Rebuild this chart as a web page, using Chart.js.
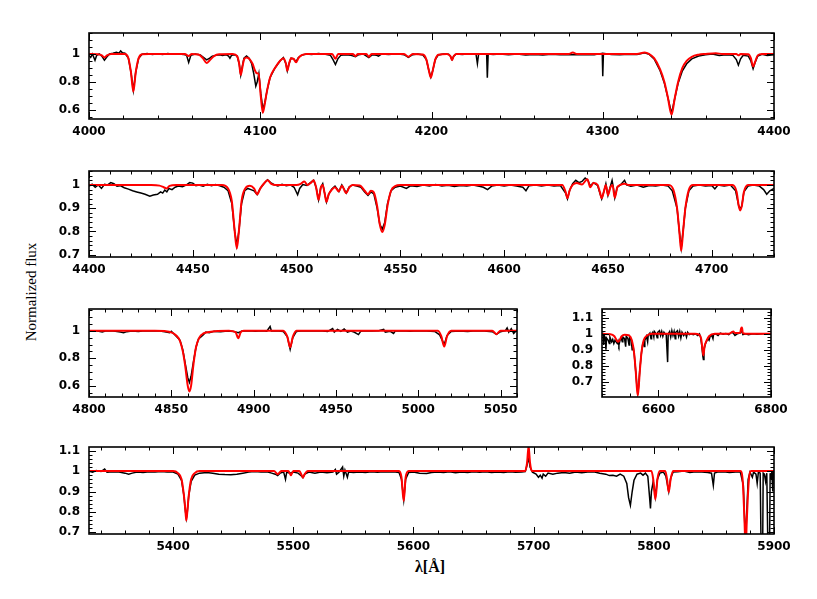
<!DOCTYPE html>
<html>
<head>
<meta charset="utf-8">
<script src="https://cdn.jsdelivr.net/npm/chart.js@4.4.1/dist/chart.umd.min.js"></script>
<style>
  html, body { margin: 0; padding: 0; background: #fff; }
  #wrap { position: relative; width: 817px; height: 599px; overflow: hidden; }
  canvas { position: absolute; }
  .ylab { position: absolute; left: 31px; top: 292px; transform: translate(-50%, -50%) rotate(-90deg);
          font-family: "Liberation Serif", "DejaVu Serif", serif;
          font-size: 15px; white-space: nowrap; color: #000; }
  .xlab { position: absolute; left: 430px; top: 567px; transform: translate(-50%, -50%);
          font-family: "Liberation Serif", "DejaVu Serif", serif; font-weight: bold;
          font-size: 16px; white-space: nowrap; color: #000; }
</style>
</head>
<body>
<div id="wrap">
  <div class="ylab">Normalized flux</div>
  <div class="xlab">λ[Å]</div>
</div>
<script>
// ---- data: [wavelength (A), normalized flux] ----

// panel 1: 4000-4400
const obsBlue = [
  [4000,0.99],[4001,0.975],[4002,1.0],[4003.5,0.955],[4004.5,0.99],[4006,1.0],[4007.5,0.985],[4009,0.955],
  [4010.5,0.98],[4012,1.0],[4014,1.005],[4016,1.012],[4017.5,1.005],[4018.5,1.022],[4019.5,1.008],[4021,1.005],
  [4023,0.97],[4024.5,0.87],[4025.9,0.74],[4027.3,0.87],[4029,0.97],[4031,0.998],[4034,1.003],[4037,0.996],
  [4040,1.002],[4043,0.997],[4046,1.003],[4049,0.998],[4052,1.002],[4055,0.997],[4057,0.99],[4058.2,0.94],
  [4059.5,0.99],[4062,1.0],[4065,0.993],[4067,0.975],[4068.7,0.958],[4070.5,0.97],[4072,0.985],[4074,0.99],
  [4076,0.995],[4078,0.99],[4080,0.995],[4081.5,0.985],[4082.3,0.97],[4083.2,0.99],[4085,0.995],[4086.5,0.985],
  [4087.7,0.93],[4088.6,0.85],[4089.5,0.91],[4090.5,0.97],[4092,0.985],[4093.5,0.97],[4095,0.93],[4096.2,0.86],
  [4097.4,0.77],[4098.2,0.8],[4099.2,0.86],[4100.3,0.72],[4101.6,0.6],[4102.8,0.66],[4104,0.74],[4105.7,0.83],
  [4108.6,0.9],[4111.5,0.95],[4113.5,0.975],[4115,0.93],[4115.8,0.88],[4116.8,0.93],[4118,0.97],[4119.5,0.965],
  [4120.9,0.945],[4122.3,0.975],[4124,0.99],[4127,1.0],[4130,0.997],[4134,1.003],[4138,0.998],[4141,0.99],
  [4142.5,0.96],[4143.9,0.925],[4145.3,0.965],[4147,0.99],[4150,0.995],[4153,0.99],[4155.6,0.98],[4157.5,0.995],
  [4160,1.0],[4163.4,0.975],[4165.5,0.995],[4168,0.99],[4169,0.985],[4171,1.0],[4175,0.997],[4180,1.002],
  [4184,0.995],[4186.5,0.975],[4189,0.995],[4192,1.0],[4195,0.993],[4197,0.96],[4198.5,0.88],[4199.6,0.835],
  [4200.7,0.88],[4202.2,0.96],[4204,0.993],[4207,1.0],[4210,0.998],[4211,0.985],[4212,0.96],[4213,0.985],
  [4214.5,1.0],[4218,0.997],[4222,1.002],[4226,0.998],[4226.8,0.93],[4227.5,0.998],[4230,1.002],[4232.2,1.0],
  [4232.6,0.83],[4233.1,1.0],[4236,0.996],[4240,1.0],[4245,0.995],[4250,1.0],[4255,0.993],[4260,0.997],
  [4265,0.993],[4270,0.998],[4275,0.995],[4280,0.997],[4285,0.994],[4290,0.997],[4295,0.995],[4299.7,1.005],
  [4300,0.84],[4300.4,1.005],[4305,0.997],[4310,0.995],[4315,0.998],[4320,0.996],[4324.5,1.008],[4327,0.998],
  [4330,0.965],[4333.5,0.88],[4336,0.79],[4338,0.69],[4340.2,0.575],[4342,0.68],[4344,0.79],[4346.5,0.88],
  [4349,0.93],[4352,0.965],[4356,0.985],[4360,0.995],[4364,1.0],[4368,0.99],[4372,0.995],[4376,0.99],
  [4378,0.96],[4379.2,0.92],[4380.5,0.965],[4382,0.99],[4385,0.985],[4386.5,0.95],[4387.8,0.895],[4389,0.94],
  [4390.5,0.985],[4393,0.998],[4396,0.99],[4400,0.995]
];
const fitBlue = [
  [4000,1.0],[4005,0.998],[4007.5,0.99],[4009,0.975],[4010.5,0.99],[4013,1.0],[4021,1.0],[4023,0.97],
  [4024.5,0.87],[4025.9,0.73],[4027.3,0.87],[4029,0.97],[4031,0.998],[4035,1.0],[4056,1.0],[4058.2,0.985],
  [4060,1.0],[4064,0.997],[4066.5,0.97],[4068.7,0.935],[4070.5,0.955],[4073,0.985],[4076,0.998],[4084,1.0],
  [4086.5,0.985],[4087.7,0.93],[4088.6,0.85],[4089.5,0.9],[4090.5,0.96],[4092,0.975],[4094,0.96],[4095.5,0.93],
  [4097,0.88],[4098,0.862],[4099,0.86],[4100.3,0.7],[4101.5,0.58],[4102.6,0.64],[4103.7,0.72],[4105.7,0.83],
  [4108.6,0.9],[4111.5,0.95],[4113.5,0.97],[4115,0.93],[4115.8,0.88],[4116.8,0.93],[4118,0.97],[4119.5,0.965],
  [4120.9,0.94],[4122.3,0.97],[4124,0.99],[4127,1.0],[4142,1.0],[4143.9,0.965],[4145.5,1.0],[4154,1.0],
  [4155.6,0.985],[4157,1.0],[4162,1.0],[4163.4,0.98],[4165,1.0],[4184,1.0],[4186.5,0.98],[4189,1.0],
  [4195,0.996],[4197,0.96],[4198.5,0.88],[4199.6,0.83],[4200.7,0.88],[4202.2,0.96],[4204,0.995],[4209,1.0],
  [4211,0.985],[4212,0.955],[4213,0.985],[4214.5,1.0],[4280,1.0],[4282.5,1.01],[4285,1.0],[4320,1.0],
  [4324.5,1.01],[4327,1.0],[4330,0.97],[4333.5,0.89],[4336,0.8],[4338,0.69],[4340.2,0.565],[4342,0.68],
  [4344,0.8],[4346.5,0.9],[4349,0.95],[4352,0.98],[4356,0.995],[4360,1.0],[4366,1.005],[4370,1.0],
  [4378,1.0],[4379.2,0.99],[4380.5,1.0],[4385,0.998],[4386.5,0.97],[4387.8,0.91],[4389,0.945],[4390.5,0.99],
  [4393,1.0],[4400,1.0]
];

// panel 2: 4400-4730
const obsHe = [
  [4400,0.995],[4401.5,1.003],[4403,0.99],[4404.5,1.0],[4406,0.985],[4407.5,1.003],[4409,1.0],[4410.5,1.01],
  [4412,1.005],[4413.5,0.995],[4415,0.997],[4417,0.988],[4419,0.982],[4421,0.975],[4423,0.97],[4425,0.965],
  [4427,0.96],[4429.3,0.952],[4431,0.957],[4433,0.96],[4434.5,0.97],[4435.5,0.965],[4436.5,0.978],[4437.5,0.97],
  [4438.5,0.985],[4440,0.98],[4441.5,0.99],[4443,0.995],[4445,0.992],[4447,1.0],[4448.5,1.01],[4450,1.008],
  [4451.5,0.997],[4453,1.0],[4455,0.995],[4457,1.003],[4459,0.997],[4461,1.002],[4463,0.996],[4465,0.99],
  [4467,0.975],[4468.8,0.92],[4470.2,0.8],[4471.2,0.74],[4472.2,0.8],[4473.5,0.92],[4475,0.975],[4476.5,0.985],
  [4478,0.98],[4479.5,0.975],[4481,0.958],[4482.5,0.985],[4484.2,1.005],[4486,1.022],[4487.5,1.01],[4489,1.002],
  [4491,0.996],[4493,1.003],[4495,0.997],[4497,1.0],[4498.8,0.99],[4499.6,0.975],[4500.5,0.958],[4501.5,0.985],
  [4503,1.002],[4505,0.998],[4507,1.012],[4508.2,1.02],[4509.4,0.99],[4510.6,0.936],[4511.7,0.99],[4512.6,1.005],
  [4513.5,0.965],[4514.4,0.927],[4515.5,0.96],[4517,0.983],[4518.5,0.995],[4520.4,0.972],[4521.8,1.0],[4523.9,0.965],
  [4525.4,0.992],[4527,1.0],[4529,0.995],[4531,0.99],[4532.8,0.97],[4534.4,0.955],[4535.8,0.97],[4537.2,0.962],
  [4538.8,0.9],[4540.1,0.83],[4541.3,0.81],[4542.5,0.84],[4543.8,0.92],[4545.5,0.975],[4547.5,0.99],[4550,0.995],
  [4552.9,0.985],[4555,0.997],[4558,0.993],[4561,1.0],[4564,0.996],[4567,1.002],[4570,0.995],[4573,0.999],
  [4576,0.993],[4579,0.998],[4582,0.995],[4585,1.0],[4588,0.994],[4590,0.99],[4592,0.98],[4594,0.995],
  [4597,1.0],[4600,0.996],[4603,1.0],[4606,0.995],[4609,0.99],[4610.5,0.975],[4612,0.997],[4615,1.0],
  [4618,0.996],[4621,1.0],[4624,0.995],[4627,0.998],[4629.6,0.965],[4630.5,0.94],[4631.5,0.975],[4633,1.005],
  [4634.5,1.02],[4636,1.01],[4637.5,1.015],[4639,1.03],[4640.3,1.02],[4641.5,0.995],[4643,1.01],[4645,0.998],
  [4646.1,0.965],[4647,0.94],[4648,0.97],[4649,1.005],[4650,0.955],[4651.2,0.995],[4652,1.02],[4652.6,0.99],
  [4653.3,0.945],[4654.5,0.99],[4656,1.0],[4658,1.02],[4659,1.0],[4661,0.995],[4664,1.0],[4667,0.99],
  [4670,0.998],[4673,0.995],[4676,1.0],[4679,0.995],[4681,0.975],[4683.3,0.9],[4684.4,0.8],[4685.3,0.73],
  [4686.2,0.8],[4687.3,0.9],[4689,0.975],[4691,0.995],[4694,1.0],[4697,0.995],[4700,0.998],[4701.5,0.983],
  [4703,1.0],[4706,0.995],[4709,1.0],[4711.5,0.975],[4713,0.91],[4713.7,0.895],[4714.5,0.91],[4715.5,0.97],
  [4717.5,0.995],[4720,1.0],[4723,0.995],[4725,0.98],[4726.5,0.96],[4728,0.975],[4730,0.985]
];
const fitHe = [
  [4400,1.0],[4430,1.0],[4434,0.997],[4436,0.99],[4437.4,0.985],[4438.8,0.996],[4442,1.0],[4464,1.0],
  [4467,0.985],[4468.8,0.93],[4470.2,0.8],[4471.2,0.727],[4472.2,0.8],[4473.5,0.93],[4475.3,0.985],[4477.5,0.997],
  [4479.5,0.985],[4481,0.96],[4482.5,0.985],[4484.2,1.005],[4486,1.02],[4487.8,1.005],[4490,1.0],[4500,1.0],
  [4502,1.005],[4503.7,1.015],[4505.3,1.0],[4507,1.01],[4508.2,1.02],[4509.4,0.99],[4510.6,0.936],[4511.7,0.99],
  [4512.6,1.0],[4513.5,0.965],[4514.4,0.927],[4515.5,0.96],[4517,0.98],[4518.5,0.99],[4520.4,0.972],[4521.8,0.997],
  [4523.9,0.965],[4525.4,0.99],[4527,1.0],[4530.5,0.998],[4532.8,0.975],[4534.4,0.96],[4535.8,0.975],[4537.2,0.968],
  [4538.8,0.91],[4540.1,0.83],[4541.3,0.798],[4542.5,0.83],[4543.8,0.91],[4545.5,0.975],[4547.5,0.995],[4550,1.0],
  [4628,1.0],[4629.6,0.97],[4630.5,0.943],[4631.5,0.975],[4633,1.0],[4635,1.008],[4637.5,1.002],[4640.1,1.025],
  [4641.5,0.99],[4643,1.008],[4645,1.0],[4646.1,0.97],[4647,0.943],[4648,0.97],[4649,1.0],[4650,0.955],
  [4651.2,0.99],[4652.2,1.0],[4653.3,0.945],[4654.5,0.99],[4656,1.0],[4658,1.005],[4660,1.0],[4679,1.0],
  [4681.5,0.98],[4683.3,0.9],[4684.4,0.8],[4685.3,0.717],[4686.2,0.8],[4687.3,0.9],[4689,0.98],[4691,1.0],
  [4710,1.0],[4712,0.97],[4713,0.91],[4713.7,0.89],[4714.5,0.91],[4715.5,0.97],[4717.5,1.0],[4730,1.0]
];

// panel 3: 4800-5060
const obsHbeta = [
  [4800,0.997],[4803,1.0],[4806,0.995],[4808,0.99],[4810,0.998],[4813,1.0],[4816,0.996],[4819,0.99],
  [4821,0.985],[4823,0.993],[4826,0.997],[4830,0.995],[4834,1.0],[4838,0.997],[4842,1.0],[4846,0.993],
  [4849,0.985],[4850,0.995],[4851.5,0.978],[4853,0.96],[4855.3,0.93],[4857,0.86],[4858.5,0.76],[4860,0.66],
  [4861,0.625],[4862,0.67],[4863.5,0.78],[4865,0.88],[4866.5,0.94],[4868,0.955],[4869.5,0.97],[4871,0.99],
  [4873,0.985],[4876,0.995],[4880,0.992],[4884,0.997],[4888,0.995],[4890.7,0.985],[4893,0.997],[4897,1.0],
  [4901,0.996],[4905,1.0],[4908,0.997],[4910,1.03],[4910.8,0.998],[4914,1.0],[4918,0.995],[4920.5,0.955],
  [4922.2,0.865],[4923.8,0.95],[4926,0.995],[4930,1.0],[4935,0.997],[4940,1.0],[4945,0.995],[4948,1.015],
  [4949,0.99],[4951,1.01],[4953,0.995],[4955,1.012],[4957,0.99],[4959,0.997],[4961,0.99],[4963.7,0.972],
  [4965,0.995],[4968,1.0],[4972,0.997],[4976,1.0],[4979,1.01],[4980,0.99],[4983,0.995],[4985,0.98],
  [4986,0.998],[4990,1.0],[4995,0.996],[5000,1.0],[5005,0.997],[5010,0.995],[5013,0.97],[5015.8,0.9],
  [5017.5,0.965],[5020,0.995],[5025,0.998],[5030,0.995],[5035,1.0],[5040,0.997],[5045,0.993],[5047.5,0.973],
  [5050,0.993],[5053,1.0],[5054,1.02],[5055,0.99],[5056.5,1.015],[5058,0.98],[5060,1.005]
];
const fitHbeta = [
  [4800,1.0],[4840,1.0],[4846,0.997],[4850,0.988],[4853,0.965],[4855.3,0.925],[4857,0.85],[4858.5,0.74],
  [4860,0.6],[4861,0.56],[4862,0.6],[4863.5,0.76],[4865,0.88],[4867,0.95],[4869.5,0.98],[4873,0.99],
  [4878,0.997],[4885,1.0],[4889,0.99],[4890.7,0.945],[4892.2,0.99],[4894,1.0],[4918,1.0],[4920.5,0.955],
  [4922.2,0.88],[4923.8,0.955],[4926,1.0],[5012,1.0],[5014,0.96],[5015.8,0.885],[5017.5,0.96],[5020,1.0],
  [5045,1.0],[5047.5,0.975],[5050,1.0],[5060,1.0]
];

// panel 4: 6500-6800
const obsHalpha = [
  [6500,1.0],[6502,0.99],[6503,0.93],[6504,0.99],[6506,0.97],[6507,0.9],[6508,0.975],[6511,0.96],
  [6513,0.94],[6514,0.98],[6517,0.95],[6519,0.965],[6521,0.94],[6523,0.96],[6525,0.95],[6527,0.94],
  [6528.5,0.955],[6530,0.93],[6532,0.96],[6534,0.975],[6536,0.95],[6537,0.98],[6540,0.97],[6542,0.92],
  [6543,0.985],[6546,0.97],[6548,0.93],[6549,0.98],[6552,0.96],[6553.5,0.9],[6555,0.93],[6557,0.88],
  [6560,0.76],[6562,0.67],[6563.5,0.63],[6565,0.67],[6567,0.77],[6570,0.88],[6572,0.93],[6574,0.95],
  [6575,0.92],[6576,0.96],[6579,0.985],[6581,0.95],[6582,0.99],[6585,1.005],[6587,0.97],[6588,1.0],
  [6590,1.01],[6592,0.98],[6593,1.015],[6596,1.0],[6598,0.975],[6599,1.01],[6602,1.02],[6604,0.99],
  [6606,1.015],[6608,0.985],[6610,1.01],[6612,1.0],[6614,0.995],[6616.5,0.823],[6617.5,1.0],[6620,1.015],
  [6622,0.98],[6624,1.02],[6626,0.99],[6628,1.015],[6630,0.97],[6631,1.01],[6634,1.02],[6636,0.985],
  [6638,1.015],[6640,0.975],[6642,1.01],[6645,0.99],[6648,1.005],[6650,0.98],[6652,1.01],[6655,0.995],
  [6658,1.0],[6662,0.995],[6666,1.0],[6670,0.99],[6673,1.0],[6675,0.98],[6677,0.93],[6679,0.86],
  [6680,0.84],[6681,0.9],[6683,0.93],[6685,0.95],[6688,0.97],[6690,0.96],[6692,0.985],[6695,0.99],
  [6697,0.97],[6698,0.995],[6702,1.0],[6706,0.99],[6710,1.005],[6715,0.998],[6720,1.002],[6725,0.995],
  [6730,1.01],[6733,1.005],[6736,0.99],[6740,1.0],[6745,1.005],[6748,1.02],[6750,0.995],[6755,1.0],
  [6760,0.995],[6768,1.0],[6775,0.997],[6785,1.0],[6800,1.0]
];
const fitHalpha = [
  [6500,1.0],[6515,0.998],[6522,0.985],[6526,0.96],[6528.5,0.95],[6531,0.96],[6535,0.985],[6540,0.995],
  [6548,0.99],[6553,0.96],[6557,0.88],[6560,0.76],[6562,0.66],[6563.5,0.615],[6565,0.66],[6567,0.76],
  [6570,0.88],[6574,0.96],[6580,0.99],[6590,1.0],[6665,1.0],[6672,0.995],[6676,0.97],[6678.5,0.9],
  [6680,0.865],[6682,0.92],[6686,0.96],[6690,0.985],[6700,1.0],[6725,1.0],[6730,1.01],[6733,1.015],
  [6736,1.005],[6745,1.005],[6747,1.035],[6748.5,1.04],[6750,1.005],[6760,1.0],[6800,1.0]
];

// panel 5: 5330-5900
const obsRed = [
  [5330,1.0],[5333,0.995],[5336,1.003],[5340,0.998],[5343,1.01],[5345,0.995],[5350,0.997],[5355,0.995],
  [5360,0.99],[5363,0.985],[5366,0.99],[5370,0.996],[5375,0.993],[5380,0.997],[5385,0.995],[5390,0.998],
  [5395,0.996],[5400,0.995],[5404,0.985],[5407,0.955],[5409,0.88],[5410.3,0.8],[5411,0.77],[5411.8,0.8],
  [5413,0.88],[5415,0.95],[5418,0.98],[5422,0.99],[5428,0.993],[5433,0.99],[5438,0.985],[5443,0.983],
  [5448,0.982],[5453,0.985],[5458,0.99],[5463,0.995],[5468,0.998],[5473,0.995],[5478,0.997],[5482,0.99],
  [5485,0.985],[5487,0.978],[5489,0.99],[5492,0.995],[5493.5,0.96],[5494.5,0.995],[5497,0.99],[5500,0.995],
  [5504,0.99],[5507,0.975],[5508,0.968],[5509.5,0.985],[5513,0.995],[5518,0.99],[5523,0.995],[5528,0.992],
  [5533,0.995],[5535,1.008],[5536,0.985],[5538,0.995],[5541,1.02],[5542,0.975],[5543,1.005],[5545,0.97],
  [5546,0.995],[5550,0.993],[5555,0.996],[5560,0.993],[5565,0.997],[5570,0.994],[5575,0.997],[5580,0.995],
  [5585,0.996],[5588,0.993],[5590,0.96],[5591.9,0.86],[5593.5,0.96],[5596,0.993],[5600,0.995],[5605,0.99],
  [5611,0.988],[5615,0.993],[5620,0.996],[5625,0.993],[5630,0.997],[5635,0.992],[5640,0.996],[5645,0.993],
  [5650,0.997],[5655,0.994],[5660,0.997],[5665,0.993],[5670,0.996],[5675,0.993],[5680,0.997],[5685,0.994],
  [5690,0.996],[5693,0.998],[5694.5,1.03],[5695.8,1.07],[5697,1.02],[5699,0.995],[5702,0.985],[5704,0.97],
  [5705.5,0.98],[5707,0.965],[5708,0.985],[5710,0.975],[5712,0.99],[5716,0.985],[5720,0.99],[5725,0.993],
  [5730,0.99],[5735,0.995],[5740,0.992],[5745,0.995],[5750,0.997],[5755,0.99],[5760,0.985],[5763,0.978],
  [5766,0.98],[5769,0.975],[5772,0.985],[5775,0.975],[5777.5,0.94],[5779,0.87],[5780.5,0.832],[5782,0.9],
  [5783.5,0.955],[5786,0.985],[5789,0.99],[5791,0.98],[5793,0.99],[5795,0.975],[5796.5,0.87],[5797.2,0.817],
  [5798,0.9],[5799.5,0.95],[5801.3,0.875],[5803,0.96],[5805,0.99],[5808,0.995],[5810,0.975],[5812.4,0.9],
  [5814,0.965],[5816,0.995],[5820,0.997],[5825,1.0],[5830,0.993],[5835,0.997],[5840,0.995],[5845,0.993],
  [5848,0.99],[5849.5,0.93],[5850.5,0.99],[5853,0.995],[5858,0.997],[5863,0.993],[5868,0.996],[5872,0.995],
  [5874.5,0.93],[5875.8,0.72],[5876.4,0.62],[5877,0.75],[5878.5,0.96],[5880,0.995],[5882,0.97],[5883,0.995],
  [5885,0.985],[5886,0.94],[5887,0.995],[5888.5,0.99],[5889.5,0.5],[5890.3,0.4],[5891,0.99],[5892,0.985],
  [5893,0.95],[5894,0.99],[5895.2,0.5],[5896,0.4],[5896.8,0.99],[5897.5,0.96],[5898.2,0.995],[5899,0.9],
  [5899.5,0.995],[5900,0.995]
];
const fitRed = [
  [5330,1.0],[5400,1.0],[5404,0.99],[5407,0.96],[5409,0.88],[5410.3,0.8],[5411,0.758],[5411.8,0.8],
  [5413,0.88],[5415,0.96],[5418,0.99],[5422,1.0],[5484,1.0],[5487,0.985],[5490,1.0],[5496,1.0],
  [5498,0.98],[5500,1.0],[5505,1.0],[5507,0.98],[5508,0.968],[5509.5,0.985],[5512,1.0],[5588,1.0],
  [5590,0.97],[5591.9,0.853],[5593.5,0.97],[5596,1.0],[5693,1.0],[5694.5,1.04],[5695.8,1.12],[5697,1.04],
  [5698.5,1.0],[5798,1.0],[5799.5,0.96],[5801.3,0.861],[5803,0.96],[5805,1.0],[5809.5,1.0],[5811,0.96],
  [5812.4,0.897],[5814,0.96],[5816,1.0],[5872,1.0],[5874,0.95],[5875.5,0.75],[5876.4,0.6],[5877.3,0.75],
  [5879,0.95],[5881,1.0],[5900,1.0]
];

// tick labels per panel
const xTicksBlue = [4000, 4100, 4200, 4300, 4400];
const xTicksHe = [4400, 4450, 4500, 4550, 4600, 4650, 4700];
const xTicksHbeta = [4800, 4850, 4900, 4950, 5000, 5050];
const xTicksHalpha = [6600, 6800];
const xTicksRed = [5400, 5500, 5600, 5700, 5800, 5900];
const yTicksBlue = [0.6, 0.8, 1];
const yTicksHe = [0.7, 0.8, 0.9, 1];
const yTicksHbeta = [0.6, 0.8, 1];
const yTicksHalpha = [0.7, 0.8, 0.9, 1, 1.1];
const yTicksRed = [0.7, 0.8, 0.9, 1, 1.1];

// ---- layout ----
const panels = [
  { box: [89, 33, 774, 119], x: [4000, 4400], y: [0.535, 1.15], xTicks: xTicksBlue, yTicks: yTicksBlue,
    xMinor: 20, yMinor: 0.05, obs: obsBlue, fit: fitBlue },
  { box: [89, 171, 774, 257], x: [4400, 4730], y: [0.69, 1.06], xTicks: xTicksHe, yTicks: yTicksHe,
    xMinor: 10, yMinor: 0.02, obs: obsHe, fit: fitHe },
  { box: [89, 309, 517, 397], x: [4800, 5060], y: [0.52, 1.157], xTicks: xTicksHbeta, yTicks: yTicksHbeta,
    xMinor: 10, yMinor: 0.05, obs: obsHbeta, fit: fitHbeta },
  { box: [602, 309, 771, 397], x: [6500, 6800], y: [0.604, 1.156], xTicks: xTicksHalpha, yTicks: yTicksHalpha,
    xMinor: 50, yMinor: 0.02, obs: obsHalpha, fit: fitHalpha },
  { box: [89, 447, 774, 534], x: [5330, 5900], y: [0.692, 1.118], xTicks: xTicksRed, yTicks: yTicksRed,
    xMinor: 20, yMinor: 0.02, obs: obsRed, fit: fitRed }
];

// room around each plot box; top/right must exceed the scales' own label overflow
const PAD_L = 55, PAD_T = 20, PAD_R = 30, PAD_B = 26;
const tickFont = { family: "DejaVu Sans", weight: "bold", size: 12 };

function isMajor(v, list) {
  return list.some(t => Math.abs(t - v) < 1e-6);
}

// inward tick marks on all four sides plus the frame
const tickMarks = {
  id: "tickMarks",
  afterDraw(chart, args, opts) {
    const { ctx, chartArea: a, scales } = chart;
    ctx.save();
    ctx.strokeStyle = "#000";
    ctx.lineWidth = 1;
    ctx.beginPath();
    const xs = scales.x, ys = scales.y;
    for (let n = Math.ceil(xs.min / opts.xMinor - 1e-6); n * opts.xMinor <= xs.max + 1e-6; n++) {
      const v = n * opts.xMinor;
      const px = Math.round(xs.getPixelForValue(v)) + 0.5;
      const len = isMajor(v, opts.xTicks) ? 7 : 3.5;
      ctx.moveTo(px, a.bottom); ctx.lineTo(px, a.bottom - len);
      ctx.moveTo(px, a.top); ctx.lineTo(px, a.top + len);
    }
    for (let n = Math.ceil(ys.min / opts.yMinor - 1e-6); n * opts.yMinor <= ys.max + 1e-6; n++) {
      const v = n * opts.yMinor;
      const py = Math.round(ys.getPixelForValue(v)) + 0.5;
      const len = isMajor(v, opts.yTicks) ? 7 : 3.5;
      ctx.moveTo(a.left, py); ctx.lineTo(a.left + len, py);
      ctx.moveTo(a.right, py); ctx.lineTo(a.right - len, py);
    }
    ctx.stroke();
    ctx.lineWidth = 1.6;
    ctx.strokeRect(a.left, a.top, a.right - a.left, a.bottom - a.top);
    ctx.restore();
  }
};

const wrap = document.getElementById("wrap");

panels.forEach(p => {
  const [l, t, r, b] = p.box;
  const canvas = document.createElement("canvas");
  canvas.width = (r - l) + PAD_L + PAD_R;
  canvas.height = (b - t) + PAD_T + PAD_B;
  canvas.style.left = (l - PAD_L) + "px";
  canvas.style.top = (t - PAD_T) + "px";
  wrap.appendChild(canvas);

  new Chart(canvas, {
    type: "line",
    data: {
      datasets: [
        { label: "model", data: p.fit.map(d => ({ x: d[0], y: d[1] })), borderColor: "#ff0000",
          borderWidth: 2, pointRadius: 0, cubicInterpolationMode: "monotone", clip: 0, order: 0 },
        { label: "observed", data: p.obs.map(d => ({ x: d[0], y: d[1] })), borderColor: "#000000",
          borderWidth: 1.5, pointRadius: 0, tension: 0, clip: 0, order: 1 }
      ]
    },
    options: {
      responsive: false,
      animation: false,
      devicePixelRatio: 1,
      events: [],
      layout: { padding: { left: 0, top: PAD_T, right: PAD_R, bottom: 0 } },
      plugins: {
        legend: { display: false },
        tooltip: { enabled: false },
        tickMarks: { xMinor: p.xMinor, yMinor: p.yMinor, xTicks: p.xTicks, yTicks: p.yTicks }
      },
      scales: {
        x: {
          type: "linear", min: p.x[0], max: p.x[1],
          grid: { display: false, drawTicks: false }, border: { display: false },
          afterBuildTicks: s => { s.ticks = p.xTicks.map(v => ({ value: v })); },
          afterFit: s => { s.height = PAD_B; },
          ticks: { autoSkip: false, maxRotation: 0, padding: 6, color: "#000", font: tickFont,
                   callback: v => String(v) }
        },
        y: {
          type: "linear", min: p.y[0], max: p.y[1],
          grid: { display: false, drawTicks: false }, border: { display: false },
          afterBuildTicks: s => { s.ticks = p.yTicks.map(v => ({ value: v })); },
          afterFit: s => { s.width = PAD_L; },
          ticks: { padding: 9, color: "#000", font: tickFont,
                   callback: v => String(+v.toFixed(2)) }
        }
      }
    },
    plugins: [tickMarks]
  });
});
</script>
</body>
</html>
